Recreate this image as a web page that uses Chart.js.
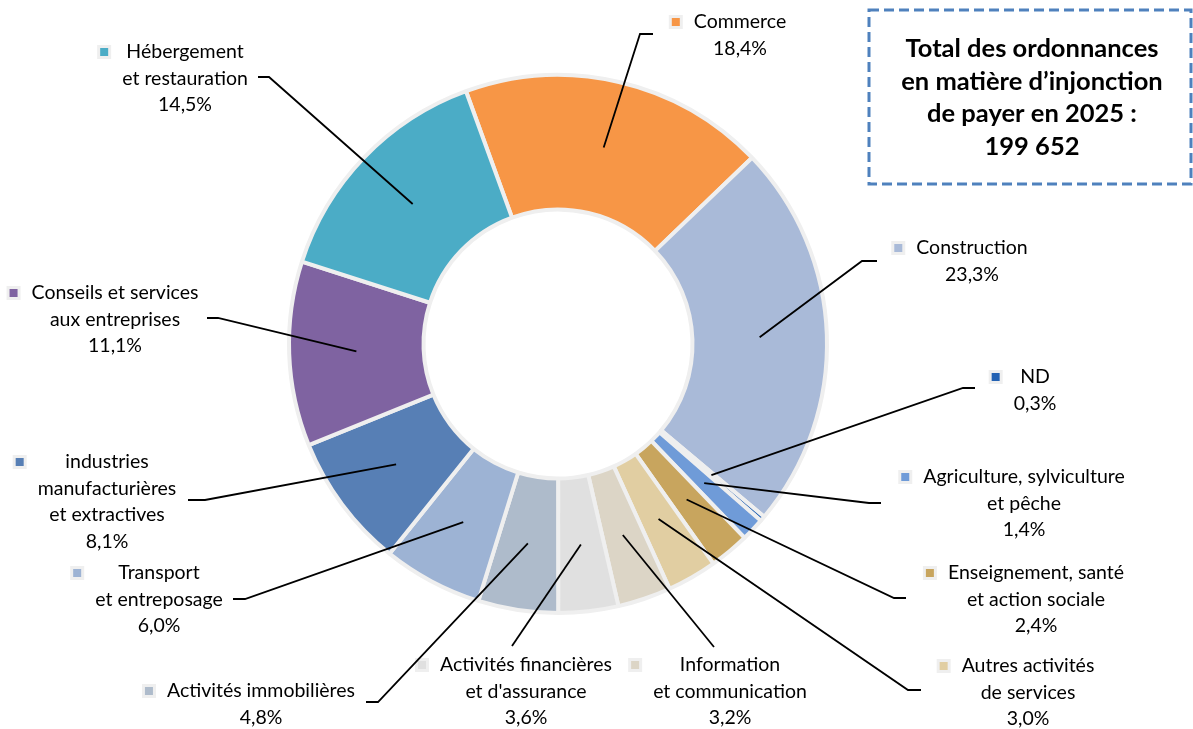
<!DOCTYPE html>
<html lang="fr">
<head>
<meta charset="utf-8">
<title>Ordonnances d'injonction de payer 2025</title>
<script src="https://cdn.jsdelivr.net/npm/chart.js@4.4.1/dist/chart.umd.min.js"></script>
<style>
  html, body { margin: 0; padding: 0; background: #fff; }
  #wrap { position: relative; width: 1193px; height: 729px; }
</style>
</head>
<body>
<div id="wrap"><canvas id="chart" width="1193" height="729"></canvas></div>
<script>
// sectors, clockwise from Commerce
const categories = [
  "Commerce",
  "Construction",
  "ND",
  "Agriculture, sylviculture\net pêche",
  "Enseignement, santé\net action sociale",
  "Autres activités\nde services",
  "Information\net communication",
  "Activités financières\net d'assurance",
  "Activités immobilières",
  "Transport\net entreposage",
  "industries\nmanufacturières\net extractives",
  "Conseils et services\naux entreprises",
  "Hébergement\net restauration"
];
const shares = [18.4, 23.3, 0.3, 1.4, 2.4, 3.0, 3.2, 3.6, 4.8, 6.0, 8.1, 11.1, 14.5];
const sliceColors = [
  "#F79646", "#A9BAD8", "#2462B3", "#6F9BD8", "#C8A55E", "#E1CEA2", "#DCD5C6",
  "#E0E0E0", "#AEBBCB", "#9DB3D4", "#577FB5", "#7F63A1", "#4BACC6"
];
const totalTitle = ["Total des ordonnances", "en matière d’injonction", "de payer en 2025 :", "199 652"];

// label placement: centre x of the text, y of first line, leader elbow, end of the short horizontal
const labelLayout = [
  { x: 740, y: 22, elbow: [640, 34], end: 653 },
  { x: 972, y: 248, elbow: [862, 261], end: 877 },
  { x: 1035, y: 377, elbow: [963, 388], end: 975 },
  { x: 1024, y: 477, elbow: [869, 503], end: 881 },
  { x: 1036, y: 573, elbow: [894, 598], end: 906 },
  { x: 1028, y: 666, elbow: [908, 690], end: 921 },
  { x: 730, y: 665, elbow: [714, 647], end: 714 },
  { x: 526, y: 665, elbow: [512, 646], end: 512 },
  { x: 261, y: 691, elbow: [378, 702], end: 366 },
  { x: 159, y: 573, elbow: [245, 599], end: 233 },
  { x: 107, y: 462, elbow: [205, 500], end: 188 },
  { x: 115, y: 293, elbow: [218, 318], end: 207 },
  { x: 185, y: 52, elbow: [269, 77], end: 258 }
];

const LABEL_FONT = "19.5px Lato";
const LINE_H = 26.5;

function fmtPct(v) {
  return v.toFixed(1).replace(".", ",") + "%";
}

const sliceLabels = {
  id: "sliceLabels",
  afterDraw(chart) {
    const ctx = chart.ctx;
    const arcs = chart.getDatasetMeta(0).data;
    ctx.save();
    ctx.font = LABEL_FONT;
    ctx.textAlign = "center";
    ctx.textBaseline = "middle";
    arcs.forEach((arc, i) => {
      const p = arc.getProps(["x", "y", "startAngle", "endAngle", "innerRadius", "outerRadius"], true);
      const mid = (p.startAngle + p.endAngle) / 2;
      const r = (p.innerRadius + p.outerRadius) / 2;
      const ax = p.x + Math.cos(mid) * r;
      const ay = p.y + Math.sin(mid) * r;
      const lay = labelLayout[i];

      // leader line
      ctx.strokeStyle = "#000";
      ctx.lineWidth = 1.8;
      ctx.beginPath();
      ctx.moveTo(ax, ay);
      ctx.lineTo(lay.elbow[0], lay.elbow[1]);
      ctx.lineTo(lay.end, lay.elbow[1]);
      ctx.stroke();

      // text lines
      const lines = categories[i].split("\n").concat(fmtPct(shares[i]));
      let widest = 0;
      ctx.fillStyle = "#000";
      lines.forEach((t, k) => {
        widest = Math.max(widest, ctx.measureText(t).width);
        ctx.fillText(t, lay.x, lay.y + k * LINE_H);
      });

      // legend key left of the widest line
      const kx = lay.x - widest / 2 - 18;
      ctx.fillStyle = "#EFEFEF";
      ctx.fillRect(kx - 7, lay.y - 7, 14, 14);
      ctx.fillStyle = sliceColors[i];
      ctx.fillRect(kx - 4, lay.y - 4, 8, 8);
    });

    // total box
    ctx.strokeStyle = "#4F81BD";
    ctx.lineWidth = 3;
    ctx.setLineDash([10, 5]);
    ctx.strokeRect(869, 10, 322, 174);
    ctx.setLineDash([]);
    ctx.fillStyle = "#000";
    ctx.font = "bold 25.5px Lato";
    totalTitle.forEach((t, k) => ctx.fillText(t, 1032, 49 + k * 32.5));
    ctx.restore();
  }
};

new Chart(document.getElementById("chart"), {
  type: "doughnut",
  data: {
    labels: categories.map((c) => c.replace(/\n/g, " ")),
    datasets: [{
      data: shares,
      backgroundColor: sliceColors,
      borderColor: "#EFEFEF",
      borderWidth: 4
    }]
  },
  options: {
    responsive: false,
    animation: false,
    devicePixelRatio: 1,
    rotation: -20,
    cutout: "50%",
    layout: { padding: { left: 287, top: 73, right: 364, bottom: 114 } },
    plugins: {
      legend: { display: false },
      tooltip: { enabled: false }
    }
  },
  plugins: [sliceLabels]
});
</script>
</body>
</html>
